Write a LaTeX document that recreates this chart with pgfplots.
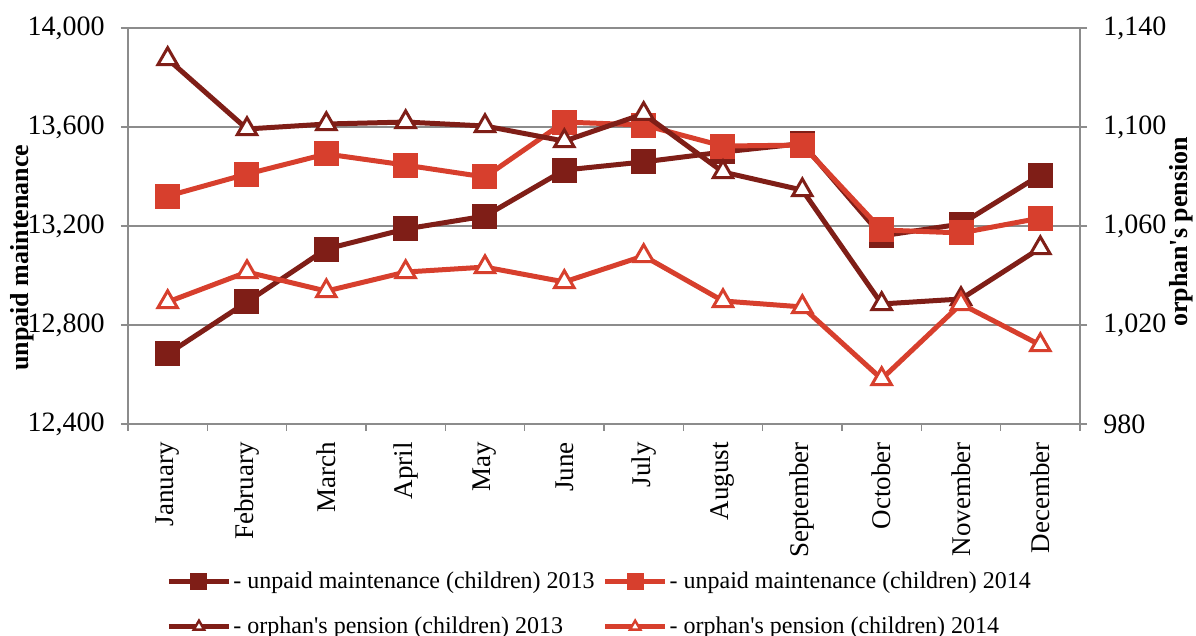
\documentclass[border=0pt]{standalone}
\usepackage{fontspec}
\setmainfont{Liberation Serif}
\usepackage{pgfplots}
\pgfplotsset{compat=1.18}
\definecolor{darkred}{HTML}{7F1E17}
\definecolor{lightred}{HTML}{D73F2D}
\definecolor{axgray}{HTML}{8C8C8C}
\begin{document}
\begin{tikzpicture}
\useasboundingbox (-64pt,-106pt) rectangle (534pt,212pt);
\pgfplotsset{
  common/.style={
    scale only axis, width=476pt, height=198pt,
    xmin=-0.5, xmax=11.5,
    tick align=outside,
    major tick length=3.5pt, minor tick length=3.5pt,
    tick style={axgray, line width=0.8pt},
    axis line style={axgray, line width=0.8pt, -},
    scaled y ticks=false,
    /pgf/number format/assume math mode=true,
    /pgf/number format/1000 sep={,},
    yticklabel style={font=\fontsize{14}{16}\selectfont},
    xticklabel style={font=\fontsize{13.5}{15}\selectfont},
    clip=false,
  },
  linestyle/.style={line width=2.5pt, mark size=5pt},
  tri/.style={line width=2.5pt, mark size=5.6pt, mark=triangle*, mark options={fill=white, line width=1.5pt}},
}
\begin{axis}[common,
  axis y line*=left, axis x line*=bottom,
  ymin=12400, ymax=14000, ytick={12400,12800,13200,13600,14000},
  ymajorgrids, grid style={axgray, line width=0.8pt},
  xtick={0,...,11},
  xticklabels={January,February,March,April,May,June,July,August,September,October,November,December},
  minor xtick={-0.5,0.5,...,11.5},
  major x tick style={draw=none},
  xticklabel style={yshift=-5.5pt, rotate=90, anchor=east, inner sep=0pt},
  yticklabel style={inner sep=0pt, xshift=-8pt},
  every axis y label/.style={at={(axis description cs:-0.1113,0.42)}, rotate=90, anchor=center},
  ylabel={\fontsize{13}{15}\selectfont\bfseries unpaid maintenance},
  legend columns=2,
  legend style={draw=none, fill=none, inner sep=0pt,
    at={(axis description cs:0.04,-0.368)}, anchor=north west,
    nodes={inner sep=1pt, anchor=west},
    font=\fontsize{12}{14}\selectfont,
    row sep=10.5pt,
    /tikz/every even column/.append style={column sep=3pt}},
  legend image code/.code={\draw[mark repeat=2,mark phase=2,#1,mark size=3pt] plot coordinates {(0pt,0pt) (15pt,0pt) (30pt,0pt)};},
]
\addplot[darkred, linestyle, mark=square*] coordinates {
(0,12683) (1,12893) (2,13107) (3,13188) (4,13240) (5,13426)
(6,13459) (7,13499) (8,13533) (9,13160) (10,13208) (11,13406)};
\addlegendentry{- unpaid maintenance (children) 2013}
\addplot[lightred, linestyle, mark=square*] coordinates {
(0,13321) (1,13410) (2,13491) (3,13446) (4,13398) (5,13620)
(6,13608) (7,13523) (8,13527) (9,13184) (10,13172) (11,13232)};
\addlegendentry{- unpaid maintenance (children) 2014}
\addlegendimage{darkred, line width=2.5pt, mark=triangle*, mark options={fill=white, line width=1.2pt}}
\addlegendentry{- orphan\textquotesingle s pension (children) 2013}
\addlegendimage{lightred, line width=2.5pt, mark=triangle*, mark options={fill=white, line width=1.2pt}}
\addlegendentry{- orphan\textquotesingle s pension (children) 2014}
\end{axis}
\begin{axis}[common,
  axis y line*=right, axis x line=none, xtick=\empty,
  ymin=980, ymax=1140, ytick={980,1020,1060,1100,1140},
  yticklabel style={inner sep=0pt, xshift=8pt},
  every axis y label/.style={at={(axis description cs:1.106,0.485)}, rotate=90, anchor=center},
  ylabel={\fontsize{13}{15}\selectfont\bfseries orphan\textquotesingle s pension},
]
\addplot[darkred, tri] coordinates {
(0,1127.5) (1,1099.2) (2,1101.2) (3,1102) (4,1100.4) (5,1094.3)
(6,1105.3) (7,1081.8) (8,1074.5) (9,1028.5) (10,1030.5) (11,1051.1)};
\addplot[lightred, tri] coordinates {
(0,1029.3) (1,1041.4) (2,1033.7) (3,1041.4) (4,1043.4) (5,1037.4)
(6,1047.9) (7,1029.7) (8,1027.3) (9,998.2) (10,1028.5) (11,1011.9)};
\end{axis}
\end{tikzpicture}
\end{document}
